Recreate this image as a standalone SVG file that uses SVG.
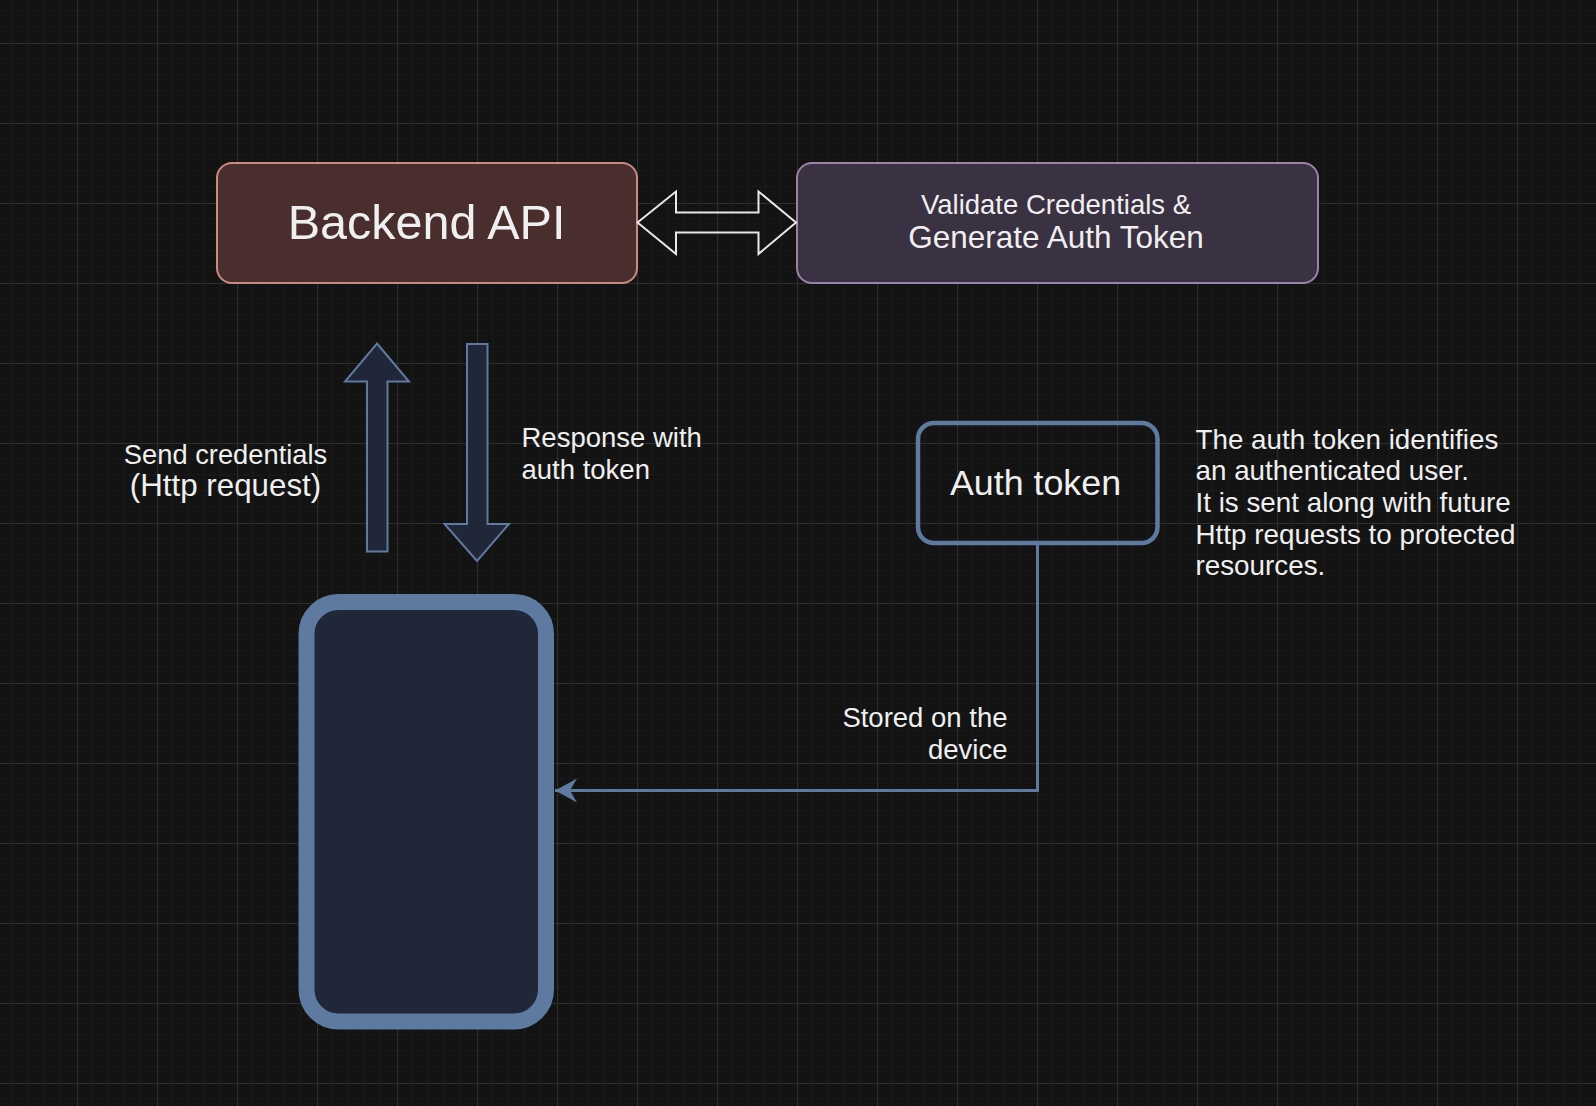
<svg xmlns="http://www.w3.org/2000/svg" width="1596" height="1106" viewBox="0 0 1596 1106">
<style>
  text { font-family: "Liberation Sans", Arial, Helvetica, sans-serif; fill: #efefef; }
  .blue { fill: #1f2738; stroke: #5f7aa0; stroke-width: 2; }
  .conn { fill: none; stroke: #5f7aa0; stroke-width: 3; }
</style>
<defs>
  <pattern id="grid" patternUnits="userSpaceOnUse" x="-3" y="-37" width="80" height="80">
    <path d="M16 0V80M32 0V80M48 0V80M64 0V80M0 16H80M0 32H80M0 48H80M0 64H80" stroke="#1a1a1a" stroke-width="1" fill="none"/>
    <path d="M0.5 0V80M0 0.5H80" stroke="#2e2e2e" stroke-width="1.2" fill="none"/>
  </pattern>
  <marker id="stealth" viewBox="0 0 24 26" refX="23" refY="13" markerWidth="24" markerHeight="26" markerUnits="userSpaceOnUse" orient="auto">
    <path d="M23 13L1 1L8 13L1 25Z" fill="#5f7aa0"/>
  </marker>
</defs>
<rect width="1596" height="1106" fill="#131313"/>
<rect width="1596" height="1106" fill="url(#grid)"/>

<g id="backend-api">
  <rect x="217" y="163" width="420" height="120" rx="15" fill="#4a2e2e" stroke="#c98a80" stroke-width="2"/>
  <text x="426.5" y="239" font-size="48.5" text-anchor="middle">Backend API</text>
</g>

<g id="validate">
  <rect x="797" y="163" width="521" height="120" rx="15" fill="#3a3142" stroke="#9b82a8" stroke-width="2"/>
  <text x="1056" y="213.5" font-size="27.5" text-anchor="middle">Validate Credentials &amp;</text>
  <text x="1056" y="247.5" font-size="31.5" text-anchor="middle">Generate Auth Token</text>
</g>

<g id="auth-token">
  <rect x="918" y="423" width="239.5" height="120" rx="16" fill="none" stroke="#5f7aa0" stroke-width="4.5"/>
  <text x="1035.5" y="495" font-size="35.8" text-anchor="middle">Auth token</text>
</g>

<g id="auth-token-note">
  <text x="1195.5" y="448.5" font-size="27.8">The auth token identifies</text>
  <text x="1195.5" y="480" font-size="27.8">an authenticated user.</text>
  <text x="1195.5" y="511.5" font-size="27.8">It is sent along with future</text>
  <text x="1195.5" y="543.5" font-size="27.8">Http requests to protected</text>
  <text x="1195.5" y="575" font-size="27.8">resources.</text>
</g>

<g id="device">
  <rect x="306.5" y="602" width="239.5" height="419.5" rx="32" fill="#1f2738" stroke="#5f7aa0" stroke-width="16"/>
</g>

<g id="connectors">
  <path class="conn" d="M1037.5 545V790.5H555" marker-end="url(#stealth)"/>
  <path id="double-arrow" d="M637.5 222.5L676 191.5V212.5H758.5V191.5L796 222.5L758.5 254V232.5H676V254Z" fill="none" stroke="#e8e8e8" stroke-width="2" stroke-linejoin="miter"/>
  <path id="up-arrow" class="blue" d="M377 343.5L409 381.5H387.5V551.5H367V381.5H345Z"/>
  <path id="down-arrow" class="blue" d="M467 344H487.5V524H509L477 561L444.5 524H467Z"/>
  <text x="225.5" y="463.5" font-size="27.3" text-anchor="middle">Send credentials</text>
  <text x="225.5" y="496" font-size="31.3" text-anchor="middle">(Http request)</text>
  <text x="521.5" y="446.5" font-size="27.5">Response with</text>
  <text x="521.5" y="478.5" font-size="27.5">auth token</text>
  <text x="1007.5" y="726.5" font-size="27.5" text-anchor="end">Stored on the</text>
  <text x="1007.5" y="758.5" font-size="27.5" text-anchor="end">device</text>
</g>
</svg>
